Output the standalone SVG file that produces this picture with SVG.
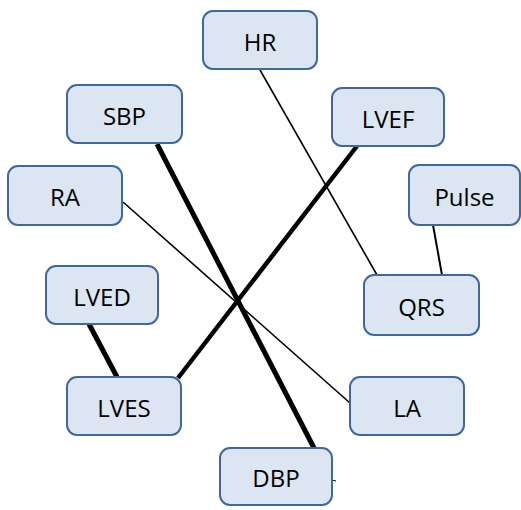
<svg xmlns="http://www.w3.org/2000/svg" width="521" height="510" viewBox="0 0 521 510">
<style>
.box{fill:#dce6f2;stroke:#41689c;stroke-width:2}
.lbl{font-family:"Open Sans","Liberation Sans",sans-serif;font-size:24px;fill:#000;text-anchor:middle;dominant-baseline:central}
.thin{stroke:#000;stroke-width:1.6;fill:none}
.thick{stroke:#000;stroke-width:5;fill:none}
</style>
<rect width="521" height="510" fill="#fff"/>
<g id="connectors">
<line class="thin" x1="260" y1="70" x2="377" y2="275"/>
<line class="thin" x1="433" y1="225" x2="442" y2="275" style="stroke-width:2"/>
<line class="thick" x1="157" y1="144" x2="314" y2="448"/>
<line class="thick" x1="357" y1="146" x2="178" y2="378" style="stroke-width:4.5"/>
<line class="thin" x1="123" y1="202" x2="350" y2="403"/>
<line class="thick" x1="89" y1="324" x2="117" y2="377"/>
<line class="thin" x1="332" y1="480" x2="336" y2="481" style="stroke-width:1"/>
</g>
<g id="HR"><rect class="box" x="203" y="11" width="114" height="58" rx="10"/><text class="lbl" x="260" y="41">HR</text></g>
<g id="SBP"><rect class="box" x="67" y="85" width="115" height="58" rx="10"/><text class="lbl" x="124.5" y="115">SBP</text></g>
<g id="LVEF"><rect class="box" x="332" y="88" width="112" height="58" rx="10"/><text class="lbl" x="388" y="118">LVEF</text></g>
<g id="RA"><rect class="box" x="8" y="166" width="114" height="59" rx="10"/><text class="lbl" x="65" y="196.5">RA</text></g>
<g id="Pulse"><rect class="box" x="409" y="165" width="111" height="60" rx="10"/><text class="lbl" x="464.5" y="196">Pulse</text></g>
<g id="LVED"><rect class="box" x="46" y="266" width="112" height="58" rx="10"/><text class="lbl" x="102" y="296">LVED</text></g>
<g id="QRS"><rect class="box" x="364" y="275" width="115" height="60" rx="10"/><text class="lbl" x="421.5" y="306">QRS</text></g>
<g id="LVES"><rect class="box" x="67" y="377" width="114" height="58" rx="10"/><text class="lbl" x="124" y="407">LVES</text></g>
<g id="LA"><rect class="box" x="350" y="377" width="114" height="58" rx="10"/><text class="lbl" x="407" y="407">LA</text></g>
<g id="DBP"><rect class="box" x="220" y="448" width="112" height="57" rx="10"/><text class="lbl" x="276" y="477.5">DBP</text></g>
</svg>
